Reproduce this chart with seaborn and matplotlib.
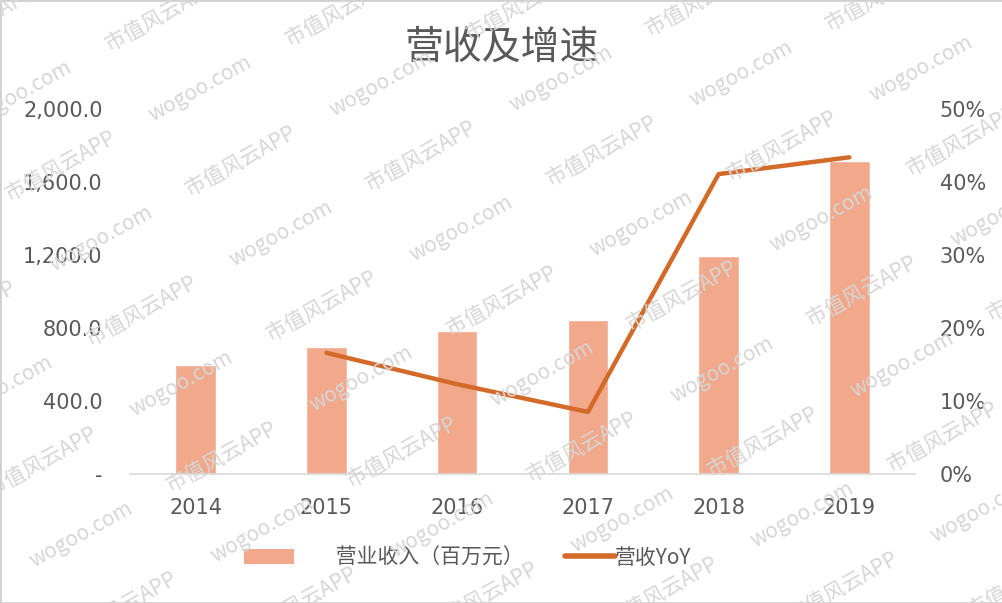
import numpy as np
import pandas as pd
import matplotlib
matplotlib.use("Agg")
import matplotlib.pyplot as plt
import matplotlib.ticker as mticker
from matplotlib.patches import Patch, Rectangle
from matplotlib.lines import Line2D
import seaborn as sns

# data
years = ["2014", "2015", "2016", "2017", "2018", "2019"]
revenue = [597, 696, 784, 844, 1195, 1715]          # 营业收入（百万元）
yoy_years = ["2015", "2016", "2017", "2018", "2019"]
yoy = [16.6, 12.3, 8.5, 41.1, 43.4]                 # 营收YoY, %

bar_color = "#F2A88A"
line_color = "#D46A2A"
text_color = "#595959"

sns.set_theme(style="white")
plt.rcParams["font.family"] = ["Noto Sans CJK SC", "DejaVu Sans"]

df = pd.DataFrame({"year": years, "revenue": revenue})
df_yoy = pd.DataFrame({"pos": [years.index(y) for y in yoy_years], "yoy": yoy})

fig = plt.figure(figsize=(10.03, 6.03), dpi=100)
ax = fig.add_axes([0.130, 0.214, 0.782, 0.605])

sns.barplot(data=df, x="year", y="revenue", color=bar_color, width=0.31,
            saturation=1, ax=ax, zorder=2)
ax.set_ylim(0, 2000)
ax.set_yticks(np.arange(0, 2001, 400))
ax.yaxis.set_major_formatter(mticker.FuncFormatter(
    lambda v, p: "-" if v == 0 else f"{v:,.1f}"))
ax.set_xlabel("")
ax.set_ylabel("")

ax2 = ax.twinx()
sns.lineplot(data=df_yoy, x="pos", y="yoy", color=line_color, linewidth=3.2,
             ax=ax2, zorder=3)
ax2.set_ylim(0, 50)
ax2.set_yticks(np.arange(0, 51, 10))
ax2.yaxis.set_major_formatter(mticker.FuncFormatter(lambda v, p: f"{v:.0f}%"))
ax2.set_ylabel("")
ax2.set_xlim(-0.5, len(years) - 0.5)
ax.set_xlim(-0.5, len(years) - 0.5)

for a in (ax, ax2):
    for s in a.spines.values():
        s.set_visible(False)
    a.tick_params(length=0, colors=text_color, labelsize=15)
    for lab in a.get_xticklabels() + a.get_yticklabels():
        lab.set_family("DejaVu Sans")
ax.spines["bottom"].set_visible(True)
ax.spines["bottom"].set_color("#D9D9D9")
ax.spines["bottom"].set_linewidth(1.2)
ax.tick_params(axis="y", pad=20)
ax.tick_params(axis="x", pad=17)
ax2.tick_params(axis="y", pad=18)

fig.text(0.5, 0.92, "营收及增速", ha="center", va="center",
         fontsize=28, color=text_color)

handles = [Patch(facecolor=bar_color, edgecolor="none"),
           Line2D([0], [0], color=line_color, linewidth=4)]
labels = ["\u3000\u3000营业收入（百万元）", "营收YoY"]
fig.legend(handles, labels, loc="center", bbox_to_anchor=(0.466, 0.075), ncol=2,
           frameon=False, fontsize=15, labelcolor=text_color,
           handlelength=2.4, handletextpad=0.0, columnspacing=2.0)

# watermark tiles over the whole picture
ang = 29
d = np.array([np.cos(np.radians(ang)), np.sin(np.radians(ang))])
n = np.array([-d[1], d[0]])
W, H = 1003, 603
for r in range(-9, 10):
    for k in range(-6, 7):
        base = np.array([W / 2, H / 2]) + n * r * 83 + d * (k * 320 + (r % 2) * 160)
        for txt, off in (("市值风云APP", 0), ("wogoo.com", 160)):
            p = base + d * off
            if -60 < p[0] < W + 60 and -30 < p[1] < H + 30:
                fig.text(p[0] / W, p[1] / H, txt, rotation=ang, ha="center",
                         va="center", fontsize=15, color="#D6D6D6",
                         zorder=10, rotation_mode="anchor")

fig.patches.append(Rectangle((0, 0), 1, 1, transform=fig.transFigure,
                             fill=False, edgecolor="#D0D0D0", linewidth=2))

fig.savefig("out.png", dpi=100)
